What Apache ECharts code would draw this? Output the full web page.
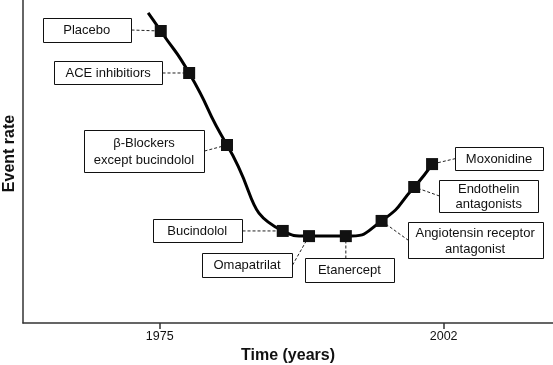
<!DOCTYPE html>
<html><head><meta charset="utf-8">
<script src="https://cdn.jsdelivr.net/npm/echarts@6/dist/echarts.min.js"></script>
<style>html,body{margin:0;padding:0;background:#fff}#c{width:553px;height:365px}</style>
</head><body><div id="c"></div>
<script>
// ---- data ----
const curveStart = [1973.9, 96.0];           // where the drawn curve begins (no marker)
const drugs = ['Placebo', 'ACE inhibitiors', 'β-Blockers\nexcept bucindolol', 'Bucindolol',
  'Omapatrilat', 'Etanercept', 'Angiotensin receptor\nantagonist', 'Endothelin\nantagonists', 'Moxonidine'];
const years = [1975.1, 1977.8, 1981.4, 1986.7, 1989.2, 1992.7, 1996.1, 1999.2, 2000.9];
const eventRates = [90.4, 77.4, 55.1, 28.5, 26.9, 26.9, 31.6, 42.1, 49.2];
const tickYears = [1975, 2002];

// ---- label box layout (pixel offsets of box centre from its marker, box size, side of the leader line) ----
const boxLayout = [
  {dx: -74, dy: -1, w: 88, h: 24, side: 'right'},
  {dx: -81, dy: 0, w: 108, h: 23, side: 'right'},
  {dx: -83, dy: 6, w: 120, h: 42, side: 'right', lh: 17},
  {dx: -85.5, dy: 0, w: 89, h: 23, side: 'right'},
  {dx: -62, dy: 29, w: 90, h: 24, side: 'right'},
  {dx: 3.5, dy: 34, w: 89, h: 24, side: 'top'},
  {dx: 93.5, dy: 19.5, w: 135, h: 36, side: 'left', lh: 16},
  {dx: 74.5, dy: 9, w: 99, h: 32, side: 'left', lh: 15},
  {dx: 67, dy: -5.5, w: 88, h: 23, side: 'left'}
];

const FONT = '"Liberation Sans", Arial, Helvetica, sans-serif';
const chart = echarts.init(document.getElementById('c'), null, {renderer: 'canvas'});

const seriesData = [{value: curveStart, symbol: 'none'}]
  .concat(years.map((y, i) => [y, eventRates[i]]));

chart.setOption({
  animation: false,
  grid: {left: 23, right: 0, top: 0, bottom: 42, containLabel: false, outerBoundsMode: 'none'},
  xAxis: {
    type: 'value', min: 1962, max: 2012.4,
    axisLine: {lineStyle: {color: '#333', width: 1.5}},
    splitLine: {show: false},
    axisTick: {customValues: tickYears, length: 6, lineStyle: {color: '#333', width: 1.5}},
    axisLabel: {customValues: tickYears, formatter: v => String(v), fontSize: 12.5, color: '#111', fontFamily: FONT, margin: 7},
    name: 'Time (years)', nameLocation: 'middle', nameGap: 22,
    nameTextStyle: {fontWeight: 'bold', fontSize: 16, color: '#111', fontFamily: FONT}
  },
  yAxis: {
    type: 'value', min: 0, max: 100,
    axisLine: {show: true, lineStyle: {color: '#333', width: 1.5}},
    axisTick: {show: false}, axisLabel: {show: false}, splitLine: {show: false},
    name: 'Event rate', nameLocation: 'middle', nameGap: 5,
    nameTextStyle: {fontWeight: 'bold', fontSize: 16, color: '#111', fontFamily: FONT, padding: [0, 0, 0, 16]}
  },
  series: [{
    type: 'line', smooth: 0.6, data: seriesData,
    symbol: 'rect', symbolSize: 12, showAllSymbol: true,
    itemStyle: {color: '#111'},
    lineStyle: {color: '#000', width: 3},
    z: 3
  }]
});

// label boxes and dashed leader lines, placed relative to each marker's pixel position
const elements = [];
years.forEach((y, i) => {
  const p = chart.convertToPixel({seriesIndex: 0}, [y, eventRates[i]]);
  const L = boxLayout[i];
  const cx = p[0] + L.dx, cy = p[1] + L.dy;
  const x0 = Math.round(cx - L.w / 2) + 0.5, y0 = Math.round(cy - L.h / 2) + 0.5;
  let ax, ay;
  if (L.side === 'right') { ax = x0 + L.w; ay = cy; }
  else if (L.side === 'left') { ax = x0; ay = cy; }
  else { ax = p[0]; ay = y0; }
  elements.push({type: 'line', z: 1, shape: {x1: ax, y1: ay, x2: p[0], y2: p[1]},
    style: {stroke: '#222', lineWidth: 1, lineDash: [3, 2]}});
  elements.push({type: 'rect', z: 5, shape: {x: x0, y: y0, width: L.w, height: L.h},
    style: {fill: '#fff', stroke: '#111', lineWidth: 1}});
  elements.push({type: 'text', z: 6, style: {text: drugs[i], x: cx, y: cy + 0.5,
    align: 'center', verticalAlign: 'middle', fill: '#111',
    font: '13px ' + FONT, lineHeight: L.lh || 15}});
});
chart.setOption({graphic: {elements: elements}});
</script>
</body></html>
